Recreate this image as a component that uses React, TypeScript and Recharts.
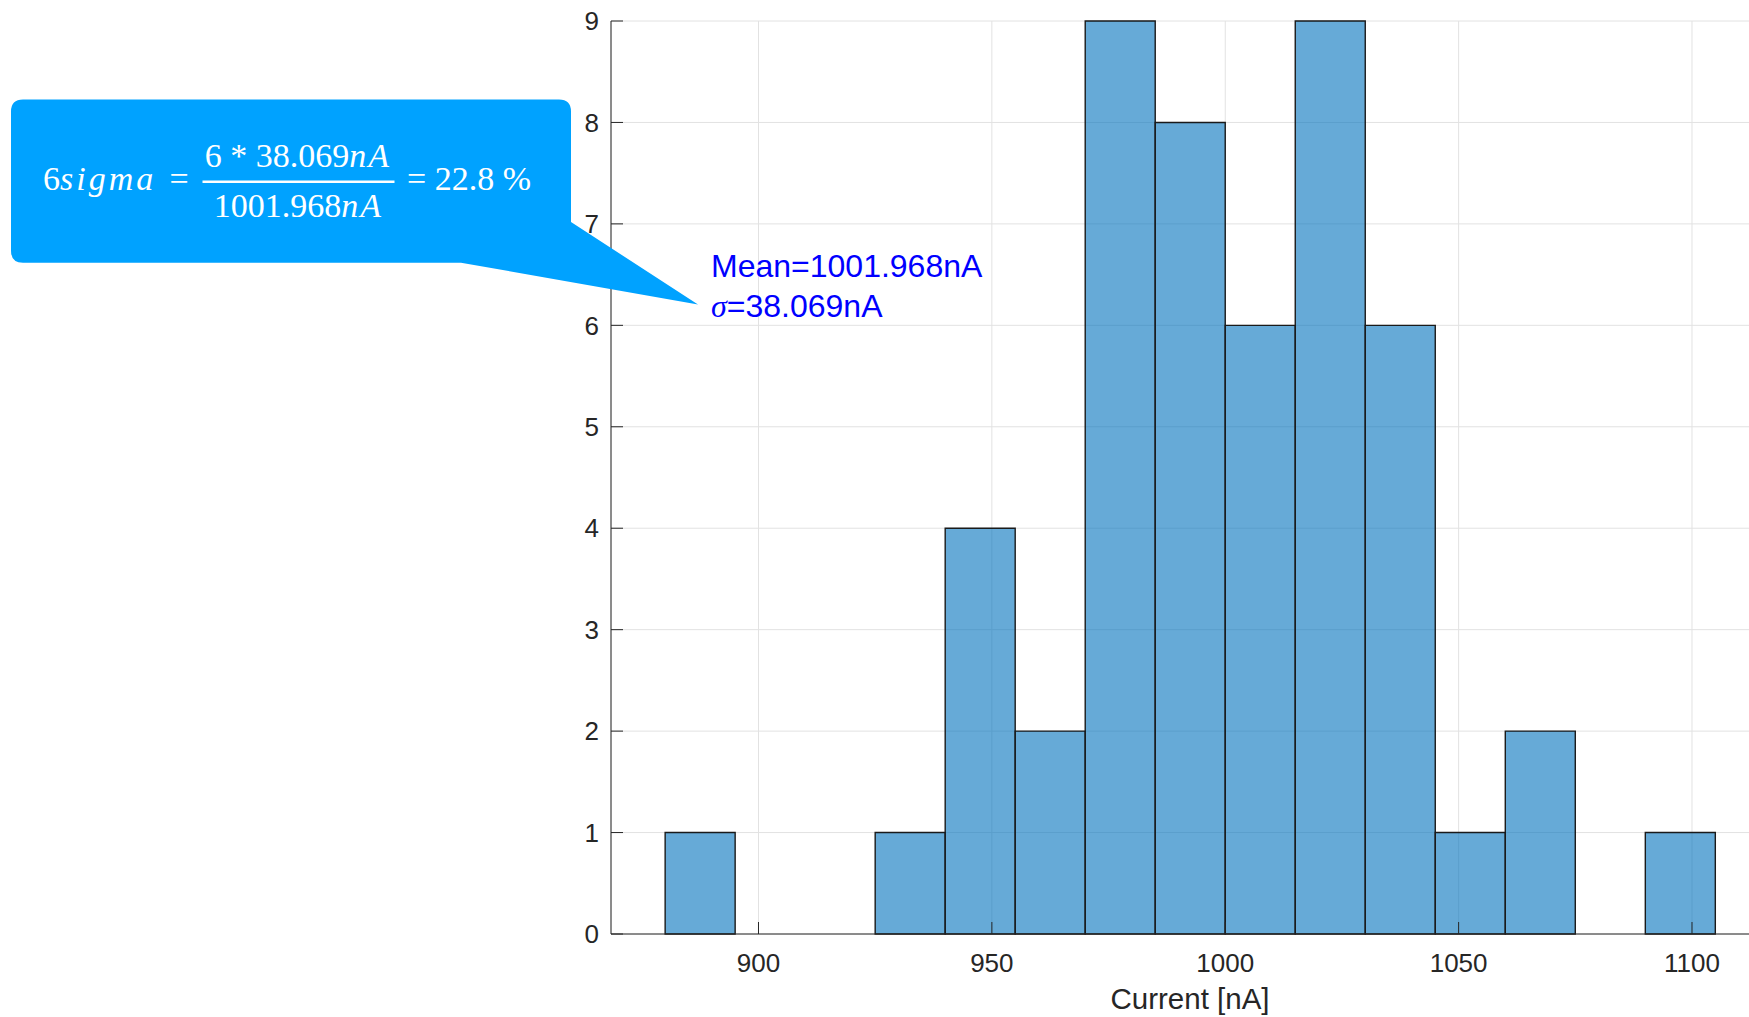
import React from 'react';
import { ComposedChart, Bar, XAxis, YAxis, CartesianGrid } from 'recharts';

// histogram bins (left edge, nA) and counts
const binStarts = [880, 895, 910, 925, 940, 955, 970, 985, 1000, 1015, 1030, 1045, 1060, 1075, 1090];
const binCounts = [1, 0, 0, 1, 4, 2, 9, 8, 6, 9, 6, 1, 2, 0, 1];
const binWidth = 15;

const xTicks = [900, 950, 1000, 1050, 1100];
const yTicks = [0, 1, 2, 3, 4, 5, 6, 7, 8, 9];

const meanText = 'Mean=1001.968nA';
const sigmaText = '=38.069nA';

const xDomain: [number, number] = [868.4, 1116.5];

const CHART_W = 1800;
const CHART_H = 1017;
const Y_AXIS_W = 611;
const MARGIN = { top: 21, right: 31, left: 0, bottom: 0 };
const X_AXIS_H = 83;

const AXIS_COLOR = '#262626';
const SANS = '"Liberation Sans", Arial, Helvetica, sans-serif';
const SERIF = '"Liberation Serif", "Times New Roman", serif';

const data = binStarts.map((start, i) => ({
  center: start + binWidth / 2,
  count: binCounts[i],
}));

const tickStyle = { fontSize: 26, fill: AXIS_COLOR, fontFamily: SANS };

const Callout = () => (
  <svg
    width={1749}
    height={1017}
    style={{ position: 'absolute', left: 0, top: 0, pointerEvents: 'none' }}
  >
    <path
      d="M 23 99.5 H 559 Q 571 99.5 571 111.5 V 222 L 698 304.5 L 461 262.7 H 23 Q 11 262.7 11 250.7 V 111.5 Q 11 99.5 23 99.5 Z"
      fill="#00A2FF"
    />
    <g fill="#ffffff" fontFamily={SERIF} fontSize={34}>
      <text x={43} y={190}>
        6<tspan fontStyle="italic" letterSpacing={3}>sigma</tspan>
      </text>
      <text x={179} y={190} textAnchor="middle">=</text>
      <text x={298} y={167} textAnchor="middle">
        6 * 38.069<tspan fontStyle="italic" letterSpacing={2}>nA</tspan>
      </text>
      <rect x={202.5} y={180.5} width={192} height={2.5} />
      <text x={298.5} y={217} textAnchor="middle">
        1001.968<tspan fontStyle="italic" letterSpacing={2}>nA</tspan>
      </text>
      <text x={407} y={190}>= 22.8 %</text>
    </g>
    <g fill="#0000FF" fontSize={32} fontFamily={SANS}>
      <text x={711} y={277}>{meanText}</text>
      <text x={711} y={317}>
        <tspan fontFamily={SERIF} fontStyle="italic">σ</tspan>
        {sigmaText}
      </text>
    </g>
  </svg>
);

const App: React.FC = () => {
  return (
    <div
      style={{
        position: 'absolute',
        left: 0,
        top: 0,
        width: 1749,
        height: 1017,
        overflow: 'hidden',
        background: '#ffffff',
      }}
    >
      <ComposedChart width={CHART_W} height={CHART_H} data={data} margin={MARGIN} barCategoryGap={0} barGap={0}>
        <CartesianGrid stroke="#e2e2e2" strokeWidth={1} />
        <XAxis
          dataKey="center"
          type="number"
          domain={xDomain}
          allowDataOverflow
          ticks={xTicks}
          height={X_AXIS_H}
          tickSize={-12}
          tickMargin={32}
          tick={tickStyle}
          stroke={AXIS_COLOR}
          label={{
            value: 'Current [nA]',
            position: 'insideBottom',
            offset: 8,
            fontSize: 29.5,
            fill: AXIS_COLOR,
            fontFamily: SANS,
          }}
        />
        <XAxis
          xAxisId="top"
          orientation="top"
          dataKey="center"
          type="number"
          domain={xDomain}
          allowDataOverflow
          ticks={xTicks}
          height={0}
          tickSize={-12}
          tick={false}
          stroke={AXIS_COLOR}
        />
        <YAxis
          type="number"
          domain={[0, 9]}
          ticks={yTicks}
          width={Y_AXIS_W}
          tickSize={-12}
          tickMargin={24}
          tick={tickStyle}
          stroke={AXIS_COLOR}
          interval={0}
        />
        <Bar
          dataKey="count"
          fill="#0072BD"
          fillOpacity={0.6}
          stroke="#1a1a1a"
          strokeWidth={1.4}
          isAnimationActive={false}
        />
      </ComposedChart>
      <Callout />
    </div>
  );
};

export default App;
